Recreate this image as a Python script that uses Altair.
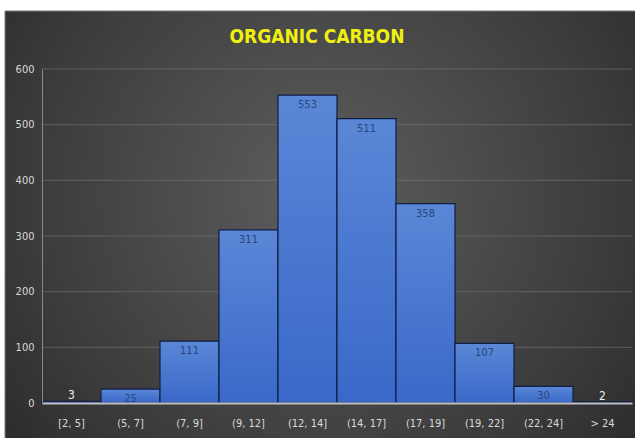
import altair as alt
import pandas as pd

# Organic carbon class counts
bins = ["[2, 5]", "(5, 7]", "(7, 9]", "(9, 12]", "(12, 14]",
        "(14, 17]", "(17, 19]", "(19, 22]", "(22, 24]", "> 24"]
counts = [3, 25, 111, 311, 553, 511, 358, 107, 30, 2]
y_ticks = [100, 200, 300, 400, 500, 600]
title_text = ["ORGANIC  CARBON"]

df = pd.DataFrame({"bin": bins, "count": counts})
grid_df = pd.DataFrame({"tick": y_ticks})
title_df = pd.DataFrame({"label": title_text})

W, H = 590, 334          # plot area
PAD_L, PAD_T = 42, 69    # left / top padding in pixels
FONT = "Liberation Sans Narrow, DejaVu Sans Condensed, Open Sans, sans-serif"

x_enc = alt.X("bin:N", sort=bins,
              scale=alt.Scale(paddingInner=0, paddingOuter=0),
              axis=alt.Axis(title=None, labelAngle=0, labelColor="#d9d9d9",
                            labelFontSize=11, labelFont=FONT, labelPadding=14,
                            ticks=False, domainColor="#bfbfbf", domainWidth=2,
                            grid=False, zindex=1))
y_scale = alt.Scale(domain=[0, 600], nice=False)
y_enc = alt.Y("count:Q", scale=y_scale,
              axis=alt.Axis(title=None, values=[0] + y_ticks,
                            labelColor="#d9d9d9", labelFontSize=11, labelFont=FONT,
                            labelPadding=8, ticks=False, domainColor="#8a8a8a",
                            domainWidth=1, grid=False, zindex=1))

base = alt.Chart(df)

# dark panel with a soft radial highlight behind everything
panel = alt.Chart(title_df).mark_rect(
    color=alt.Gradient(
        gradient="radial", x1=0.5, y1=0.45, x2=0.5, y2=0.45, r1=0, r2=0.75,
        stops=[alt.GradientStop(offset=0, color="#5e5e5e"),
               alt.GradientStop(offset=0.6, color="#3c3c3c"),
               alt.GradientStop(offset=1, color="#222222")]),
    stroke="#7a7a7a", strokeWidth=1,
).encode(
    x=alt.value(5 - PAD_L), x2=alt.value(640 - PAD_L),
    y=alt.value(11 - PAD_T), y2=alt.value(440 - PAD_T),
)

# horizontal gridlines at the y tick values
grid = alt.Chart(grid_df).mark_rule(color="#777777", strokeWidth=1, opacity=0.6).encode(
    y=alt.Y("tick:Q", scale=y_scale),
    x=alt.value(0), x2=alt.value(W),
)

bars = base.mark_bar(
    color=alt.Gradient(
        gradient="linear", x1=0, y1=0, x2=0, y2=1,
        stops=[alt.GradientStop(offset=0, color="#5a87d6"),
               alt.GradientStop(offset=1, color="#3a68c9")]),
    stroke="#0f1f45", strokeWidth=1.2,
).encode(x=x_enc, y=y_enc)

inside = base.transform_filter(alt.datum["count"] >= 20).mark_text(
    baseline="middle", dy=10, fontSize=11, font=FONT, color="#2a4680",
).encode(x=alt.X("bin:N", sort=bins), y="count:Q", text="count:Q")

outside = base.transform_filter(alt.datum["count"] < 20).mark_text(
    baseline="middle", dy=-6, fontSize=12, font=FONT, color="#eeeeee",
).encode(x=alt.X("bin:N", sort=bins), y="count:Q", text="count:Q")

title = alt.Chart(title_df).mark_text(
    fontSize=19, fontWeight="bold", font=FONT,
    color="#f0f010", align="center", baseline="middle",
).encode(x=alt.value(317 - PAD_L), y=alt.value(37 - PAD_T), text="label:N")

chart = alt.layer(panel, grid, bars, inside, outside, title).properties(
    width=W, height=H,
    padding={"left": PAD_L, "top": PAD_T, "right": 635 - PAD_L - W,
             "bottom": 438 - PAD_T - H},
    autosize=alt.AutoSizeParams(type="none"),
    background="#ffffff",
).configure_view(stroke=None)

chart.save("out.html", embed_options={"renderer": "svg", "actions": False})
